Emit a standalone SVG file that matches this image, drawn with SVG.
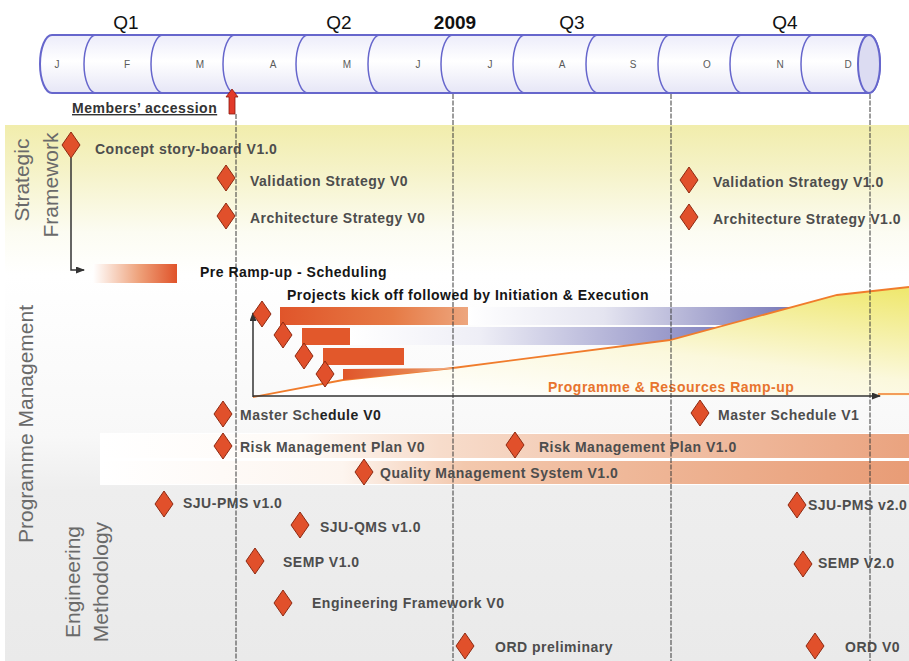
<svg xmlns="http://www.w3.org/2000/svg" xmlns:xlink="http://www.w3.org/1999/xlink" width="909" height="661" viewBox="0 0 909 661">
<style>
text { font-family: "Liberation Sans", Arial, Helvetica, sans-serif; }
.lbl { font-weight: bold; font-size: 14px; fill: #4d4d4d; letter-spacing: 0.5px; }
.blk { fill: #151515; }
.org { fill: #e8742e; }
.q { font-size: 19px; fill: #111; text-anchor: middle; }
.mon { font-size: 10px; fill: #5a5a5a; text-anchor: middle; }
.side { font-size: 21px; fill: #6a6a6a; }
.dia { fill: #e1502b; stroke: #8e2a12; stroke-width: 1; }
.vline { stroke: #3a3a3a; stroke-width: 1; stroke-dasharray: 5 1.5; fill: none; }
.div { fill: none; stroke: #6666cc; stroke-width: 1.5; }
.axis { stroke: #333; stroke-width: 1.5; fill: none; }
.bar { fill: #e2582b; }
</style>
<defs>
<path id="dia" class="dia" d="M0,-13 L9,0 L0,13 L-9,0 Z"/>
<marker id="arr" markerWidth="9" markerHeight="7" refX="8" refY="3.5" orient="auto" markerUnits="userSpaceOnUse">
<path d="M0,0 L9,3.5 L0,7 Z" fill="#333"/>
</marker>
<linearGradient id="bgV" x1="0" y1="0" x2="0" y2="1">
<stop offset="0" stop-color="#f1edac"/>
<stop offset="0.08" stop-color="#f5f2c6"/>
<stop offset="0.2" stop-color="#fcfcf2"/>
<stop offset="0.28" stop-color="#ffffff"/>
<stop offset="0.58" stop-color="#f8f8f8"/>
<stop offset="0.68" stop-color="#eeeeee"/>
<stop offset="1" stop-color="#eaeaea"/>
</linearGradient>
<linearGradient id="cyl" x1="0" y1="0" x2="0" y2="1">
<stop offset="0" stop-color="#ececfa"/>
<stop offset="0.45" stop-color="#ffffff"/>
<stop offset="1" stop-color="#e6e6f6"/>
</linearGradient>
<linearGradient id="preG" x1="0" y1="0" x2="1" y2="0">
<stop offset="0" stop-color="#ffffff"/>
<stop offset="0.55" stop-color="#eea17a"/>
<stop offset="1" stop-color="#e0532a"/>
</linearGradient>
<linearGradient id="bar1G" x1="0" y1="0" x2="1" y2="0">
<stop offset="0" stop-color="#e0552a"/>
<stop offset="0.6" stop-color="#e67a45"/>
<stop offset="1" stop-color="#eda67e"/>
</linearGradient>
<linearGradient id="bar4G" x1="0" y1="0" x2="1" y2="0">
<stop offset="0" stop-color="#e0552a"/>
<stop offset="0.6" stop-color="#e6824e"/>
<stop offset="1" stop-color="#f0b898"/>
</linearGradient>
<linearGradient id="blueA" x1="0" y1="0" x2="1" y2="0">
<stop offset="0" stop-color="#ffffff"/>
<stop offset="0.4" stop-color="#e4e4f0"/>
<stop offset="1" stop-color="#6f6fb2"/>
</linearGradient>
<linearGradient id="blueB" x1="0" y1="0" x2="1" y2="0">
<stop offset="0" stop-color="#ffffff"/>
<stop offset="0.35" stop-color="#eeeef6"/>
<stop offset="1" stop-color="#8282be"/>
</linearGradient>
<linearGradient id="yelG" x1="0.25" y1="1" x2="0.95" y2="0">
<stop offset="0" stop-color="#ffffff"/>
<stop offset="0.45" stop-color="#fbf8dc"/>
<stop offset="1" stop-color="#efe870"/>
</linearGradient>
<linearGradient id="riskG" x1="0" y1="0" x2="1" y2="0">
<stop offset="0" stop-color="#ffffff"/>
<stop offset="0.25" stop-color="#fefaf6"/>
<stop offset="0.42" stop-color="#f7dccb"/>
<stop offset="1" stop-color="#eaa37f"/>
</linearGradient>
<linearGradient id="qualG" x1="0" y1="0" x2="1" y2="0">
<stop offset="0" stop-color="#ffffff"/>
<stop offset="0.3" stop-color="#fdf5ef"/>
<stop offset="0.45" stop-color="#f3c8ad"/>
<stop offset="1" stop-color="#e89c76"/>
</linearGradient>
</defs>

<!-- backgrounds -->
<g id="background">
<rect x="0" y="0" width="909" height="661" fill="#ffffff"/>
<rect x="5" y="125" width="904" height="536" fill="url(#bgV)"/>
<rect x="100" y="433" width="809" height="52" fill="#ffffff"/>
<rect x="100" y="434" width="809" height="24" fill="url(#riskG)"/>
<rect x="100" y="461" width="809" height="23" fill="url(#qualG)"/>
</g>

<!-- timeline cylinder -->
<g id="timeline">
<path d="M52,35 H869 A11,29 0 0 1 869,93 H52 A12,29 0 0 1 52,35 Z" fill="url(#cyl)" stroke="#6666cc" stroke-width="2"/>
<ellipse cx="869" cy="64" rx="11" ry="29" fill="#dcdcf2" stroke="#6666cc" stroke-width="2"/>
<path class="div" d="M96,35 A12,29 0 0 0 96,93"/>
<path class="div" d="M163,35 A12,29 0 0 0 163,93"/>
<path class="div" d="M235,35 A12,29 0 0 0 235,93"/>
<path class="div" d="M308,35 A12,29 0 0 0 308,93"/>
<path class="div" d="M380,35 A12,29 0 0 0 380,93"/>
<path class="div" d="M453,35 A12,29 0 0 0 453,93"/>
<path class="div" d="M525,35 A12,29 0 0 0 525,93"/>
<path class="div" d="M598,35 A12,29 0 0 0 598,93"/>
<path class="div" d="M670,35 A12,29 0 0 0 670,93"/>
<path class="div" d="M742,35 A12,29 0 0 0 742,93"/>
<path class="div" d="M813,35 A12,29 0 0 0 813,93"/>
<text class="mon" x="57" y="68">J</text>
<text class="mon" x="127" y="68">F</text>
<text class="mon" x="200" y="68">M</text>
<text class="mon" x="273" y="68">A</text>
<text class="mon" x="347" y="68">M</text>
<text class="mon" x="418" y="68">J</text>
<text class="mon" x="490" y="68">J</text>
<text class="mon" x="562" y="68">A</text>
<text class="mon" x="633" y="68">S</text>
<text class="mon" x="707" y="68">O</text>
<text class="mon" x="780" y="68">N</text>
<text class="mon" x="848" y="68">D</text>
<text class="q" x="126" y="29">Q1</text>
<text class="q" x="339" y="29">Q2</text>
<text class="q" x="455" y="29" font-weight="bold">2009</text>
<text class="q" x="572" y="29">Q3</text>
<text class="q" x="785" y="29">Q4</text>
</g>

<!-- section labels -->
<g id="section-labels">
<text class="side" transform="translate(29,180) rotate(-90)" text-anchor="middle">Strategic</text>
<text class="side" transform="translate(58,185) rotate(-90)" text-anchor="middle">Framework</text>
<text class="side" transform="translate(33,424) rotate(-90)" text-anchor="middle">Programme Management</text>
<text class="side" transform="translate(80,582) rotate(-90)" text-anchor="middle">Engineering</text>
<text class="side" transform="translate(108,582) rotate(-90)" text-anchor="middle">Methodology</text>
</g>

<!-- ramp-up chart -->
<g id="ramp-up-chart">
<rect x="468" y="307" width="340" height="18" fill="url(#blueA)"/>
<rect x="350" y="327" width="372" height="18" fill="url(#blueB)"/>
<polygon points="253,397 343,380 453,368 670,340 837,295 909,287 909,396 253,396" fill="url(#yelG)"/>
<polyline points="253,397 343,380 453,368 670,340 837,295 909,287" fill="none" stroke="#f07c2c" stroke-width="1.8"/>
<line x1="878" y1="394" x2="909" y2="394" stroke="#f07c2c" stroke-width="1.5"/>
<rect x="280" y="307" width="188" height="18" fill="url(#bar1G)"/>
<rect class="bar" x="302" y="328" width="48" height="17"/>
<rect class="bar" x="323" y="348" width="81" height="17"/>
<polygon points="343,369 458,368 458,368 343,380" fill="url(#bar4G)"/>
<text class="lbl org" x="548" y="392">Programme &amp; Resources Ramp-up</text>
</g>

<!-- quarter lines -->
<g id="quarter-lines">
<line class="vline" x1="236" y1="114" x2="236" y2="661"/>
<line class="vline" x1="453" y1="94" x2="453" y2="661"/>
<line class="vline" x1="671" y1="94" x2="671" y2="661"/>
<line class="vline" x1="870" y1="94" x2="870" y2="661"/>
</g>

<!-- connectors -->
<g id="connectors">
<path class="axis" d="M71,158 V270 H84" stroke-width="1.2" marker-end="url(#arr)"/>
<path class="axis" d="M253,397 V313" marker-end="url(#arr)"/>
<path class="axis" d="M253,396 H880" marker-end="url(#arr)"/>
</g>

<!-- nodes -->
<g id="members-accession">
<polygon points="232,89 238,97 235,97 235,114 229,114 229,97 226,97" fill="#e23a2a" stroke="#8a1a10" stroke-width="0.8"/>
<text class="lbl" x="72" y="113" text-decoration="underline" style="fill:#333">Members’ accession</text>
</g>
<g id="concept-storyboard-v1">
<use href="#dia" x="71" y="145"/>
<text class="lbl" x="95" y="154">Concept story-board V1.0</text>
</g>
<g id="validation-strategy-v0">
<use href="#dia" x="226" y="178"/>
<text class="lbl" x="250" y="186">Validation Strategy V0</text>
</g>
<g id="architecture-strategy-v0">
<use href="#dia" x="226" y="216"/>
<text class="lbl" x="250" y="223">Architecture Strategy V0</text>
</g>
<g id="validation-strategy-v1">
<use href="#dia" x="689" y="180"/>
<text class="lbl" x="713" y="187">Validation Strategy V1.0</text>
</g>
<g id="architecture-strategy-v1">
<use href="#dia" x="689" y="217"/>
<text class="lbl" x="713" y="224">Architecture Strategy V1.0</text>
</g>
<g id="pre-ramp-up">
<rect x="93" y="264" width="84" height="19" fill="url(#preG)"/>
<text class="lbl blk" x="200" y="277">Pre Ramp-up - Scheduling</text>
</g>
<g id="projects-kick-off">
<text class="lbl blk" x="287" y="300">Projects kick off followed by Initiation &amp; Execution</text>
<use href="#dia" x="262" y="314"/>
<use href="#dia" x="283" y="335"/>
<use href="#dia" x="304" y="356"/>
<use href="#dia" x="325" y="374"/>
</g>
<g id="master-schedule-v0">
<use href="#dia" x="223" y="414"/>
<text class="lbl" x="240" y="420">Master Sch<tspan style="fill:#222">edule V0</tspan></text>
</g>
<g id="master-schedule-v1">
<use href="#dia" x="700" y="413"/>
<text class="lbl" x="718" y="420">Master Schedule V1</text>
</g>
<g id="risk-management-plan-v0">
<use href="#dia" x="223" y="446"/>
<text class="lbl" x="240" y="452">Risk Management Plan V0</text>
</g>
<g id="risk-management-plan-v1">
<use href="#dia" x="515" y="445"/>
<text class="lbl" x="539" y="452">Risk Management Plan V1.0</text>
</g>
<g id="quality-management-system-v1">
<use href="#dia" x="364" y="472"/>
<text class="lbl" x="380" y="478">Quality Management System V1.0</text>
</g>
<g id="sju-pms-v1">
<use href="#dia" x="164" y="504"/>
<text class="lbl" x="183" y="508">SJU-PMS v1.0</text>
</g>
<g id="sju-qms-v1">
<use href="#dia" x="300" y="525"/>
<text class="lbl" x="320" y="532">SJU-QMS v1.0</text>
</g>
<g id="semp-v1">
<use href="#dia" x="255" y="561"/>
<text class="lbl" x="283" y="567">SEMP V1.0</text>
</g>
<g id="engineering-framework-v0">
<use href="#dia" x="283" y="603"/>
<text class="lbl" x="312" y="608">Engineering Framework V0</text>
</g>
<g id="ord-preliminary">
<use href="#dia" x="465" y="646"/>
<text class="lbl" x="495" y="652">ORD preliminary</text>
</g>
<g id="sju-pms-v2">
<use href="#dia" x="797" y="505"/>
<text class="lbl" x="808" y="510">SJU-PMS v2.0</text>
</g>
<g id="semp-v2">
<use href="#dia" x="803" y="564"/>
<text class="lbl" x="818" y="568">SEMP V2.0</text>
</g>
<g id="ord-v0">
<use href="#dia" x="815" y="646"/>
<text class="lbl" x="845" y="652">ORD V0</text>
</g>
</svg>
